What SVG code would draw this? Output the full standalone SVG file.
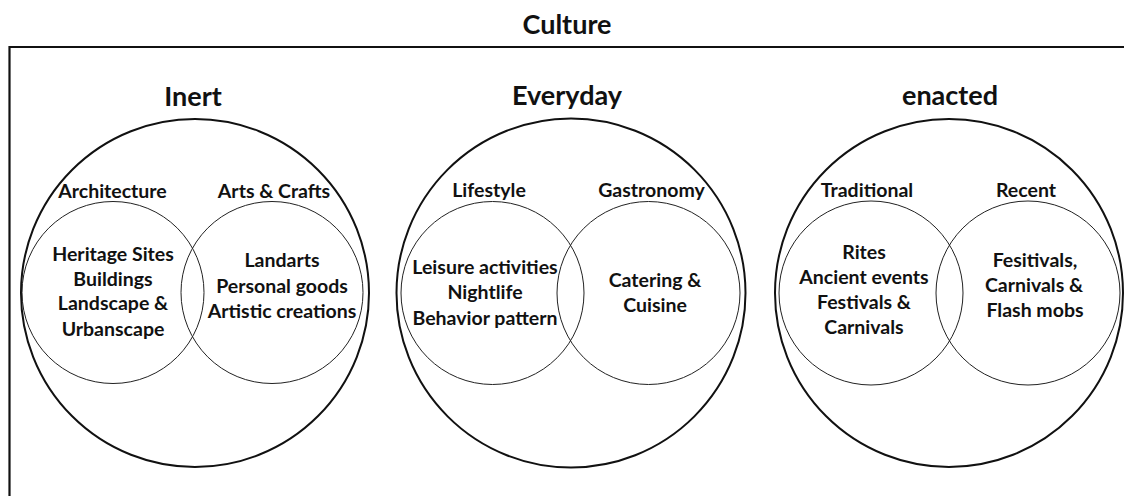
<svg xmlns="http://www.w3.org/2000/svg" width="1124" height="496" viewBox="0 0 1124 496">
  <style>
    text { font-family: Lato, "Liberation Sans", sans-serif; font-weight: bold; fill: #111; text-anchor: middle; }
    .title { font-size: 27px; }
    .lbl { font-size: 19.5px; }
    .outer { fill: none; stroke: #111; stroke-width: 2; }
    .inner { fill: none; stroke: #222; stroke-width: 1; }
    .frame { fill: none; stroke: #111; stroke-width: 2.2; }
  </style>
  <rect width="1124" height="496" fill="#fff"/>

  <!-- frame around the whole culture field -->
  <g id="culture">
    <path class="frame" d="M9.5,496 V47 H1124"/>
    <text class="title" x="567" y="34">Culture</text>
  </g>

  <!-- Inert culture -->
  <g id="inert">
    <text class="title" x="193" y="106">Inert</text>
    <circle class="outer" cx="195" cy="293" r="174"/>
  </g>
  <g id="architecture">
    <circle class="inner" cx="113" cy="292.5" r="91"/>
    <text class="lbl" x="112.5" y="198">Architecture</text>
    <text class="lbl" x="113" y="261">Heritage Sites</text>
    <text class="lbl" x="113" y="286">Buildings</text>
    <text class="lbl" x="113" y="310">Landscape &amp;</text>
    <text class="lbl" x="113" y="336">Urbanscape</text>
  </g>
  <g id="arts-crafts">
    <circle class="inner" cx="272" cy="292.5" r="91"/>
    <text class="lbl" x="274" y="198">Arts &amp; Crafts</text>
    <text class="lbl" x="282" y="267">Landarts</text>
    <text class="lbl" x="282" y="293">Personal goods</text>
    <text class="lbl" x="282" y="318">Artistic creations</text>
  </g>

  <!-- Everyday culture -->
  <g id="everyday">
    <text class="title" x="567" y="105">Everyday</text>
    <circle class="outer" cx="571" cy="293" r="174.5"/>
  </g>
  <g id="lifestyle">
    <circle class="inner" cx="492.5" cy="293" r="91.5"/>
    <text class="lbl" x="489" y="197">Lifestyle</text>
    <text class="lbl" x="485" y="274">Leisure activities</text>
    <text class="lbl" x="485" y="299">Nightlife</text>
    <text class="lbl" x="485" y="325">Behavior pattern</text>
  </g>
  <g id="gastronomy">
    <circle class="inner" cx="648.5" cy="293" r="91.5"/>
    <text class="lbl" x="651.5" y="197">Gastronomy</text>
    <text class="lbl" x="655" y="287">Catering &amp;</text>
    <text class="lbl" x="655" y="312">Cuisine</text>
  </g>

  <!-- Enacted culture -->
  <g id="enacted">
    <text class="title" x="950" y="105">enacted</text>
    <circle class="outer" cx="949" cy="293" r="174"/>
  </g>
  <g id="traditional">
    <circle class="inner" cx="871" cy="293" r="92"/>
    <text class="lbl" x="867" y="197">Traditional</text>
    <text class="lbl" x="864" y="259">Rites</text>
    <text class="lbl" x="864" y="284">Ancient events</text>
    <text class="lbl" x="864" y="309">Festivals &amp;</text>
    <text class="lbl" x="864" y="334">Carnivals</text>
  </g>
  <g id="recent">
    <circle class="inner" cx="1028" cy="293" r="92"/>
    <text class="lbl" x="1026" y="197">Recent</text>
    <text class="lbl" x="1035" y="267">Fesitivals,</text>
    <text class="lbl" x="1034" y="292">Carnivals &amp;</text>
    <text class="lbl" x="1035" y="317">Flash mobs</text>
  </g>
</svg>
